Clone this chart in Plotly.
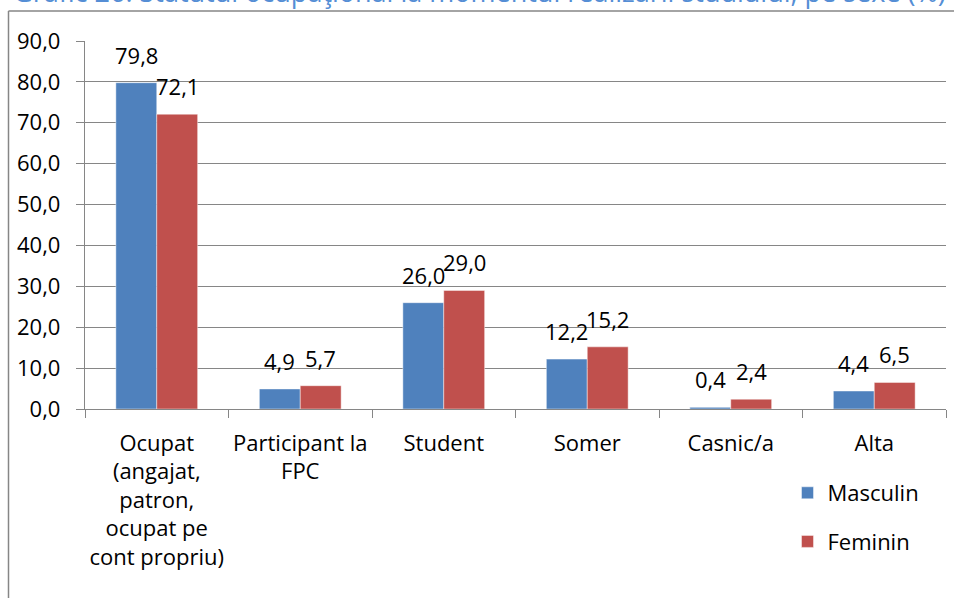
import plotly.graph_objects as go

categories = [
    "Ocupat<br>(angajat,<br>patron,<br>ocupat pe<br>cont propriu)",
    "Participant la<br>FPC",
    "Student",
    "Somer",
    "Casnic/a",
    "Alta",
]
masculin = [79.8, 4.9, 26.0, 12.2, 0.4, 4.4]
feminin = [72.1, 5.7, 29.0, 15.2, 2.4, 6.5]
series_names = ["Masculin", "Feminin"]
y_ticks = [0, 10, 20, 30, 40, 50, 60, 70, 80, 90]
title_text = "Grafic 26. Statutul ocupaţional la momentul realizării studiului, pe sexe (%)"

BLUE = "#4F81BD"
RED = "#C0504D"
GRID = "#868686"
FONT = "Open Sans"
FS = 22

W, H = 954, 598
ML, MR, MT, MB = 85, 8, 41, 189
PW = W - ML - MR
PH = H - MT - MB


def px_x(px):
    return (px - ML) / PW


def px_y(py):
    return (H - MB - py) / PH


fig = go.Figure()
for name, vals, col in [(series_names[0], masculin, BLUE), (series_names[1], feminin, RED)]:
    fig.add_trace(go.Bar(
        x=categories, y=vals, name=name, legendgroup=name,
        marker=dict(color=col, line=dict(color="rgba(255,255,255,0.45)", width=1)),
    ))

bargap = 0.43
half = (1 - bargap) / 4
for i, (m, f) in enumerate(zip(masculin, feminin)):
    for v, off in [(m, -half), (f, half)]:
        fig.add_annotation(
            x=i + off, y=v, xref="x", yref="y",
            text=f"{v:.1f}".replace(".", ","),
            showarrow=False, yanchor="bottom", yshift=11,
            font=dict(family=FONT, size=FS, color="#000000"),
        )

fig.add_annotation(
    x=px_x(11), y=px_y(12.5), xref="paper", yref="paper",
    xanchor="left", yanchor="bottom", showarrow=False,
    text=title_text, font=dict(family=FONT, size=27, color="#558ED5"),
)

# chart frame (left and top border)
fig.add_shape(type="line", xref="paper", yref="paper",
              x0=px_x(8.5), x1=px_x(960), y0=px_y(11), y1=px_y(11),
              line=dict(color=GRID, width=1.5))
fig.add_shape(type="line", xref="paper", yref="paper",
              x0=px_x(8.5), x1=px_x(8.5), y0=px_y(610), y1=px_y(11),
              line=dict(color=GRID, width=1.5))

fig.update_layout(
    width=W, height=H, autosize=False,
    margin=dict(l=ML, r=MR, t=MT, b=MB, pad=0, autoexpand=False),
    paper_bgcolor="white", plot_bgcolor="white",
    separators=", ",
    barmode="group", bargap=bargap, bargroupgap=0,
    font=dict(family=FONT, size=FS, color="#000000"),
    showlegend=True,
    legend=dict(
        x=px_x(787.5), y=px_y(472), xanchor="left", yanchor="top",
        traceorder="grouped", tracegroupgap=17,
        font=dict(family=FONT, size=FS, color="#000000"),
        bgcolor="rgba(0,0,0,0)",
    ),
)
fig.update_xaxes(
    type="category", showgrid=False, showline=True, linecolor=GRID, linewidth=1.3,
    ticks="outside", tickson="boundaries", ticklen=8, tickcolor=GRID, tickwidth=1.3,
    tickangle=0, automargin=False,
    ticklabelstandoff=14, tickfont=dict(family=FONT, size=FS, color="#000000"),
)
fig.update_yaxes(
    range=[0, 90], tickvals=y_ticks, tickformat=".1f",
    showgrid=True, gridcolor=GRID, gridwidth=1.3,
    showline=True, linecolor=GRID, linewidth=1.3,
    ticks="outside", ticklen=8, tickcolor=GRID, tickwidth=1.3,
    ticklabelstandoff=11, zeroline=False, automargin=False,
    tickfont=dict(family=FONT, size=FS, color="#000000"),
)

fig.write_html(
    "out.html",
    config={"displayModeBar": False},
    post_script="document.body.style.margin='0';document.body.style.overflow='hidden';",
)
